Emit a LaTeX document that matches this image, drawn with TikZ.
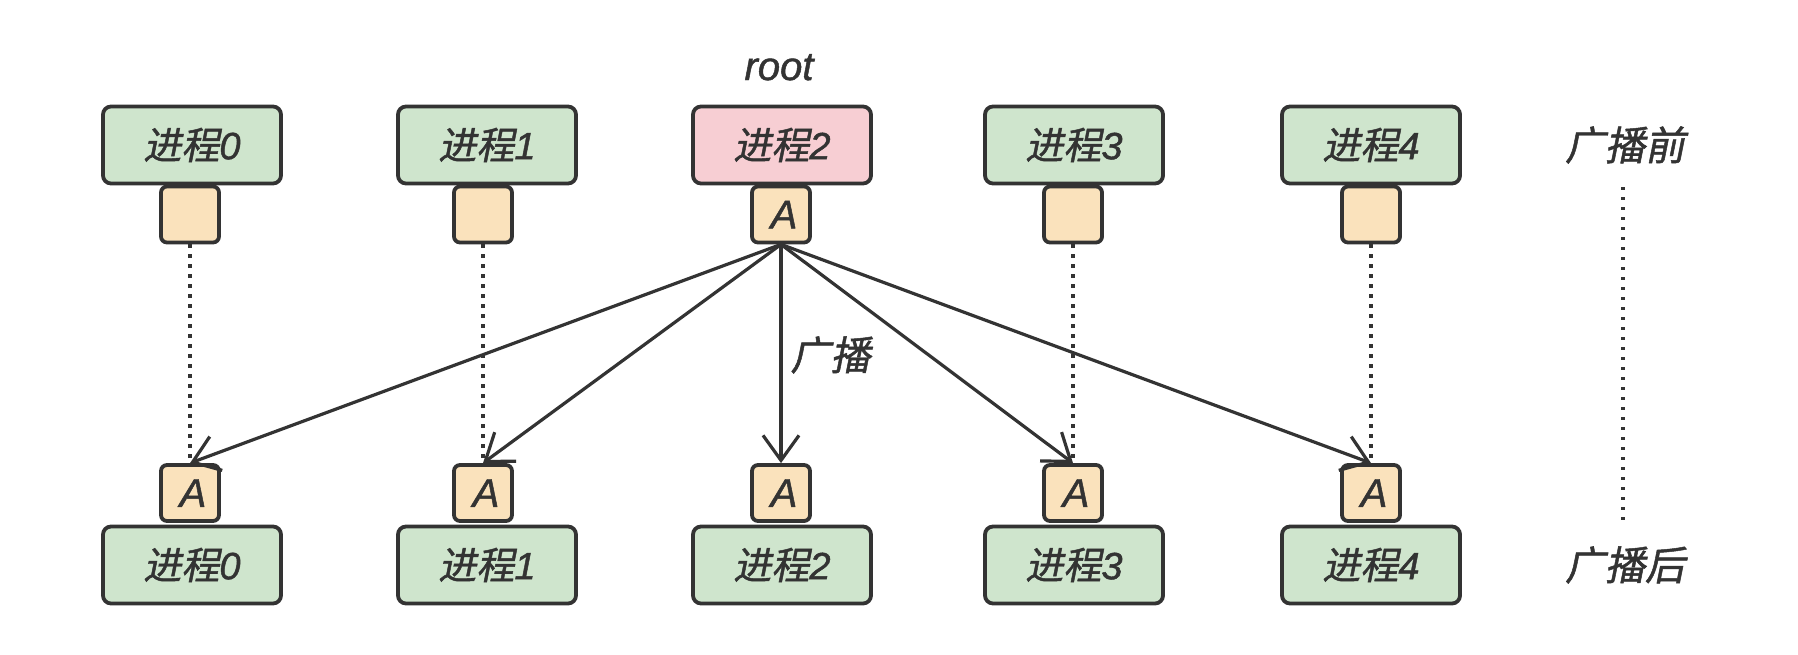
\documentclass[tikz,border=0pt]{standalone}
\usepackage{fontspec}
\newfontfamily\cjk{Noto Sans CJK SC}[FakeSlant=0.2,FakeBold=1.2]
\newfontfamily\lat{Liberation Sans}[UprightFont=* Italic,FakeBold=1.2]
\usetikzlibrary{arrows.meta}
\definecolor{linec}{HTML}{333333}
\definecolor{greenf}{HTML}{CFE5CD}
\definecolor{pinkf}{HTML}{F7CED3}
\definecolor{orangef}{HTML}{FAE2BC}
\newcommand{\proc}[1]{{\cjk 进程}{\lat #1}}
\begin{document}
\begin{tikzpicture}[x=0.5pt,y=-0.5pt,
  proc/.style={draw=linec, fill=greenf, line width=1.9pt, rounded corners=4pt,
    minimum width=89pt, minimum height=38.5pt, inner sep=0pt, text=linec,
    font=\fontsize{19}{22}\selectfont},
  buf/.style={draw=linec, fill=orangef, line width=1.9pt, rounded corners=3pt,
    minimum width=29pt, minimum height=28pt, inner sep=0pt, text=linec,
    font=\lat\fontsize{20}{22}\selectfont},
  lbl/.style={text=linec, inner sep=0pt, font=\cjk\fontsize{20}{22}\selectfont},
  dots/.style={draw=linec, line width=1.6pt, dash pattern=on 1.6pt off 3.4pt},
  arr/.style={draw=linec, line width=1.6pt, -{Straight Barb[length=12.5pt,width=18pt,line width=1.6pt]}}
]
\useasboundingbox (0,0) rectangle (1798,654);

% top row
\node[proc] (t0) at (192,145) {\proc{0}};
\node[proc] (t1) at (487,145) {\proc{1}};
\node[proc, fill=pinkf] (t2) at (782,145) {\proc{2}};
\node[proc] (t3) at (1074,145) {\proc{3}};
\node[proc] (t4) at (1371,145) {\proc{4}};

\node[buf] (s0) at (190,214.5) {};
\node[buf] (s1) at (483,214.5) {};
\node[buf] (s2) at (781,214.5) {\hspace{3pt}A};
\node[buf] (s3) at (1073,214.5) {};
\node[buf] (s4) at (1371,214.5) {};

% bottom row
\node[proc] (b0) at (192,565) {\proc{0}};
\node[proc] (b1) at (487,565) {\proc{1}};
\node[proc] (b2) at (782,565) {\proc{2}};
\node[proc] (b3) at (1074,565) {\proc{3}};
\node[proc] (b4) at (1371,565) {\proc{4}};

\node[buf] (r0) at (190,493) {\hspace{3pt}A};
\node[buf] (r1) at (483,493) {\hspace{3pt}A};
\node[buf] (r2) at (781,493) {\hspace{3pt}A};
\node[buf] (r3) at (1073,493) {\hspace{3pt}A};
\node[buf] (r4) at (1371,493) {\hspace{3pt}A};

% labels
\node[text=linec, inner sep=0pt, anchor=base, font=\lat\fontsize{20}{22}\selectfont] (root) at (779,80) {root};
\node[lbl] (before) at (1625,145) {广播前};
\node[lbl] (after) at (1625,565) {广播后};
\node[lbl, anchor=west] (bc) at (790,355) {广播};

\coordinate (vtop) at (1623,187);
\coordinate (vbot) at (1623,520);
\draw[dots] (vtop) -- (vbot);

% dotted links
\draw[dots] (s0.south) -- (r0.north);
\draw[dots] (s1.south) -- (r1.north);
\draw[dots] (s3.south) -- (r3.north);
\draw[dots] (s4.south) -- (r4.north);

% broadcast arrows
\draw[arr] (s2.south) -- (r0.north);
\draw[arr] (s2.south) -- (r1.north);
\draw[arr] (s2.south) -- (r2.north);
\draw[arr] (s2.south) -- (r3.north);
\draw[arr] (s2.south) -- (r4.north);
\end{tikzpicture}
\end{document}
